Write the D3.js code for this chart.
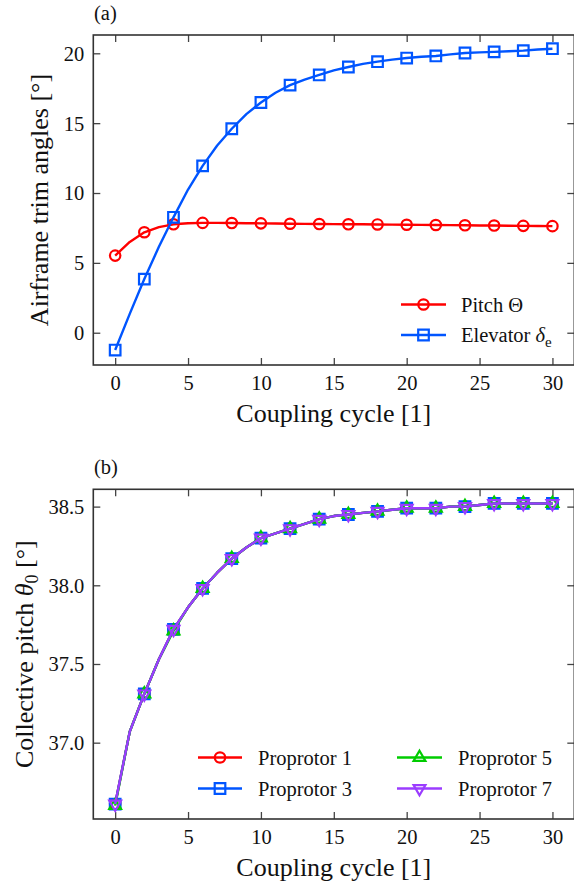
<!DOCTYPE html>
<html>
<head>
<meta charset="utf-8">
<script src="https://cdn.jsdelivr.net/npm/d3@7/dist/d3.min.js"></script>
</head>
<body style="margin:0;background:#fff">
<svg id="fig" width="574" height="886" style="display:block;font-family:'Liberation Serif'"></svg>
<script>
// Coupling cycles (x values, one per iteration)
const cycles = d3.range(0, 31);

// (a) Airframe trim angles [deg]
const pitchTheta = [5.52, 6.50, 7.19, 7.56, 7.76, 7.84, 7.86, 7.86, 7.85, 7.84,
  7.83, 7.82, 7.80, 7.79, 7.78, 7.77, 7.76, 7.76, 7.75, 7.74,
  7.73, 7.72, 7.71, 7.70, 7.69, 7.68, 7.67, 7.66, 7.65, 7.64, 7.63];
const elevatorDelta = [-1.24, 1.35, 3.84, 6.15, 8.26, 10.25, 11.94, 13.40, 14.60, 15.65,
  16.48, 17.18, 17.72, 18.12, 18.45, 18.78, 19.02, 19.24, 19.40, 19.55,
  19.66, 19.75, 19.81, 19.92, 20.02, 20.07, 20.10, 20.15, 20.19, 20.27, 20.33];

// (b) Collective pitch of the proprotors [deg]
const proprotor1 = [36.61, 37.07, 37.31, 37.53, 37.72, 37.86, 37.98, 38.08, 38.17, 38.24,
  38.30, 38.33, 38.36, 38.39, 38.42, 38.44, 38.45, 38.46, 38.47, 38.48,
  38.49, 38.49, 38.49, 38.50, 38.50, 38.51, 38.52, 38.52, 38.52, 38.52, 38.52];
const proprotor3 = [36.61, 37.07, 37.31, 37.53, 37.72, 37.86, 37.98, 38.08, 38.17, 38.24,
  38.30, 38.33, 38.36, 38.39, 38.42, 38.44, 38.45, 38.46, 38.47, 38.48,
  38.49, 38.49, 38.49, 38.50, 38.50, 38.51, 38.52, 38.52, 38.52, 38.52, 38.52];
const proprotor5 = [36.60, 37.07, 37.31, 37.53, 37.71, 37.86, 37.98, 38.08, 38.17, 38.24,
  38.30, 38.33, 38.36, 38.39, 38.42, 38.44, 38.45, 38.46, 38.47, 38.48,
  38.49, 38.49, 38.49, 38.50, 38.50, 38.51, 38.52, 38.52, 38.52, 38.52, 38.52];
const proprotor7 = [36.61, 37.07, 37.31, 37.53, 37.72, 37.86, 37.98, 38.08, 38.17, 38.24,
  38.30, 38.33, 38.36, 38.39, 38.42, 38.44, 38.45, 38.46, 38.47, 38.48,
  38.49, 38.49, 38.49, 38.50, 38.50, 38.51, 38.52, 38.52, 38.52, 38.52, 38.52];

// Tick labels
const xTicks = [0, 5, 10, 15, 20, 25, 30];
const yTicksA = [0, 5, 10, 15, 20];
const yTicksB = [37.0, 37.5, 38.0, 38.5];

const RED = "#ff0000", BLUE = "#0055ff", GREEN = "#00cc00", PURPLE = "#9b3cff";
const FONT = "Liberation Serif";

const svg = d3.select("#fig");

const panels = [
  {
    tag: "(a)", top: 35, bottom: 365, yDomain: [-2.31, 21.31], yTicks: yTicksA,
    yFmt: d3.format("d"), ylabelX: 48,
    ylabel: t => { t.text("Airframe trim angles [°]"); },
    series: [
      { name: "Pitch", math: "Θ", values: pitchTheta, color: RED, marker: "circle" },
      { name: "Elevator", math: "δ", sub: "e", values: elevatorDelta, color: BLUE, marker: "square" }
    ],
    legend: { cols: [{ x0: 401, x1: 446, tx: 461 }], rows: [304.5, 335], perCol: 2 }
  },
  {
    tag: "(b)", top: 489.3, bottom: 819, yDomain: [36.515, 38.61], yTicks: yTicksB,
    yFmt: d3.format(".1f"), ylabelX: 33,
    ylabel: t => {
      t.append("tspan").text("Collective pitch ");
      t.append("tspan").style("font-style", "italic").text("θ");
      t.append("tspan").attr("font-size", 18).attr("dy", 5).text("0");
      t.append("tspan").attr("dy", -5).text(" [°]");
    },
    series: [
      { name: "Proprotor 1", values: proprotor1, color: RED, marker: "circle" },
      { name: "Proprotor 3", values: proprotor3, color: BLUE, marker: "square" },
      { name: "Proprotor 5", values: proprotor5, color: GREEN, marker: "triUp" },
      { name: "Proprotor 7", values: proprotor7, color: PURPLE, marker: "triDown" }
    ],
    legend: { cols: [{ x0: 198, x1: 242, tx: 258 }, { x0: 397, x1: 442, tx: 458 }], rows: [757.5, 788.5], perCol: 2 }
  }
];

const left = 93.3, right = 574.3;
const x = d3.scaleLinear().domain([-1.5, 31.5]).range([left, right]);

function drawMarker(g, type, cx, cy, color) {
  if (type === "circle") {
    g.append("circle").attr("cx", cx).attr("cy", cy).attr("r", 5.2)
      .attr("fill", "none").attr("stroke", color).attr("stroke-width", 2.2);
    return;
  }
  let d;
  if (type === "square") {
    const h = 5.3;
    d = `M${cx - h},${cy - h}H${cx + h}V${cy + h}H${cx - h}Z`;
  } else if (type === "triUp") {
    const r = 6.8;
    d = `M${cx},${cy - r}L${cx + r * 0.87},${cy + r * 0.5}L${cx - r * 0.87},${cy + r * 0.5}Z`;
  } else {
    const r = 6.8;
    d = `M${cx},${cy + r}L${cx + r * 0.87},${cy - r * 0.5}L${cx - r * 0.87},${cy - r * 0.5}Z`;
  }
  g.append("path").attr("d", d)
    .attr("fill", "none").attr("stroke", color).attr("stroke-width", 2.2);
}

panels.forEach(p => {
  const y = d3.scaleLinear().domain(p.yDomain).range([p.bottom, p.top]);
  const g = svg.append("g");

  // clip region for the data
  const clipId = "clip" + p.tag.replace(/\W/g, "");
  svg.append("clipPath").attr("id", clipId).append("rect")
    .attr("x", left).attr("y", p.top).attr("width", right - left).attr("height", p.bottom - p.top);

  // axes with inward ticks on all four sides
  const tickLen = 7;
  const axB = d3.axisBottom(x).tickValues(xTicks).tickSize(-tickLen);
  const axT = d3.axisTop(x).tickValues(xTicks).tickSize(-tickLen).tickFormat("");
  const axL = d3.axisLeft(y).tickValues(p.yTicks).tickSize(-tickLen).tickFormat(p.yFmt);
  const axR = d3.axisRight(y).tickValues(p.yTicks).tickSize(-tickLen).tickFormat("");

  const styleAxis = sel => {
    sel.attr("font-family", FONT).attr("font-size", 20.5);
    sel.select(".domain").remove();
    sel.selectAll(".tick line").attr("stroke", "#444").attr("stroke-width", 1.3);
    sel.selectAll(".tick text").attr("fill", "#111");
  };
  g.append("g").attr("transform", `translate(0,${p.bottom})`).call(axB).call(styleAxis)
    .selectAll(".tick text").attr("dy", null).attr("y", 24.5);
  g.append("g").attr("transform", `translate(0,${p.top})`).call(axT).call(styleAxis);
  g.append("g").attr("transform", `translate(${left},0)`).call(axL).call(styleAxis)
    .selectAll(".tick text").attr("dy", "0.34em").attr("x", -9);
  g.append("g").attr("transform", `translate(${right},0)`).call(axR).call(styleAxis);

  // frame
  g.append("rect").attr("x", left).attr("y", p.top)
    .attr("width", right - left).attr("height", p.bottom - p.top)
    .attr("fill", "none").attr("stroke", "#333").attr("stroke-width", 1.6);

  // series: line through every cycle, markers every second cycle
  const line = d3.line().x((d, i) => x(cycles[i])).y(d => y(d));
  const dataG = g.append("g").attr("clip-path", `url(#${clipId})`);
  p.series.forEach(s => {
    dataG.append("path").attr("d", line(s.values))
      .attr("fill", "none").attr("stroke", s.color).attr("stroke-width", 2.4)
      .attr("stroke-linejoin", "round");
    const mg = dataG.append("g");
    s.values.forEach((v, i) => {
      if (cycles[i] % 2 === 0) drawMarker(mg, s.marker, x(cycles[i]), y(v), s.color);
    });
  });

  // legend
  p.series.forEach((s, k) => {
    const col = p.legend.cols[Math.floor(k / p.legend.perCol)];
    const ry = p.legend.rows[k % p.legend.perCol];
    const lg = g.append("g");
    lg.append("line").attr("x1", col.x0).attr("x2", col.x1).attr("y1", ry).attr("y2", ry)
      .attr("stroke", s.color).attr("stroke-width", 2.4);
    drawMarker(lg, s.marker, (col.x0 + col.x1) / 2, ry, s.color);
    const t = lg.append("text").attr("x", col.tx).attr("y", ry + 7)
      .attr("font-family", FONT).attr("font-size", 20.5).attr("fill", "#111");
    t.append("tspan").text(s.name);
    if (s.math) {
      t.append("tspan").text(" ");
      t.append("tspan").style("font-style", s.sub ? "italic" : "normal").text(s.math);
      if (s.sub) t.append("tspan").attr("font-size", 15).attr("dy", 5).text(s.sub);
    }
  });

  // axis titles
  g.append("text").attr("x", (left + right) / 2).attr("y", p.bottom + 57)
    .attr("text-anchor", "middle").attr("font-family", FONT).attr("font-size", 26)
    .attr("fill", "#111").text("Coupling cycle [1]");
  const yl = g.append("text")
    .attr("transform", `translate(${p.ylabelX},${(p.top + p.bottom) / 2}) rotate(-90)`)
    .attr("text-anchor", "middle").attr("font-family", FONT).attr("font-size", 26).attr("fill", "#111");
  p.ylabel(yl);

  // panel tag
  g.append("text").attr("x", 94).attr("y", p.top - 15)
    .attr("font-family", FONT).attr("font-size", 20.5).attr("fill", "#111").text(p.tag);
});
</script>
</body>
</html>
